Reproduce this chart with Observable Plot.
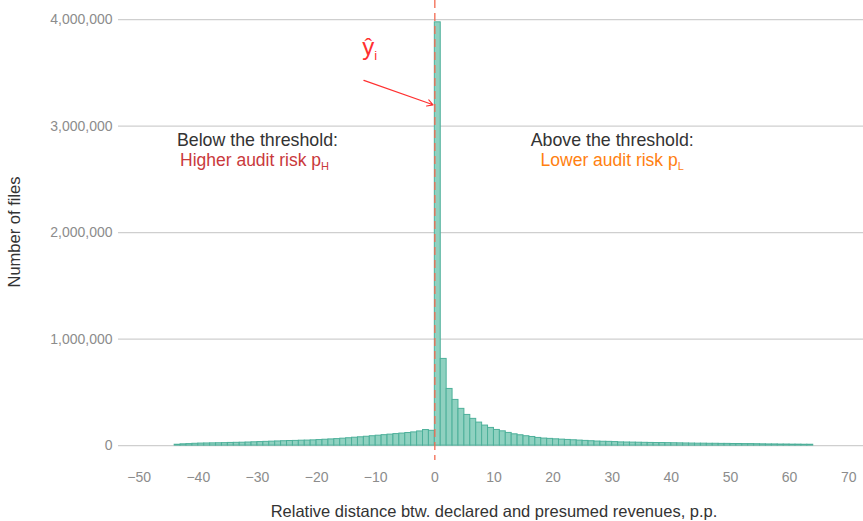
<!DOCTYPE html>
<html>
<head>
<meta charset="utf-8">
<script src="https://cdn.jsdelivr.net/npm/d3@7"></script>
<script src="https://cdn.jsdelivr.net/npm/@observablehq/plot@0.6"></script>
<style>
  html, body { margin: 0; padding: 0; background: #fff; }
  #chart svg { display: block; }
</style>
</head>
<body>
<div id="chart"></div>
<script>
// Bin starts (1 p.p. wide bins)
const leftBins = d3.range(-44, 0);
const leftCounts = [
  8000, 12000, 14000, 17000, 19000, 20000, 21000, 22000, 23000, 25000,
  26000, 27000, 29000, 31000, 33000, 35000, 37000, 39000, 41000, 43000,
  44000, 46000, 47000, 49000, 52000, 55000, 58000, 61000, 65000, 69000,
  74000, 78000, 83000, 88000, 93000, 98000, 103000, 108000, 113000, 118000,
  124000, 133000, 146000, 139000
];
const rightBins = d3.range(0, 64);
const rightCounts = [
  3975000, 814000, 532000, 429000, 345000, 288000, 251000, 216000, 188000, 166000,
  147000, 134000, 119000, 106000, 97000, 88000, 81000, 72000, 66000, 63000,
  59000, 56000, 53000, 50000, 47000, 44000, 41000, 38000, 36000, 35000,
  33000, 30000, 29000, 28000, 27000, 26000, 25000, 24000, 24000, 23000,
  22000, 21000, 20000, 19000, 18000, 18000, 17000, 17000, 16000, 16000,
  15000, 15000, 14000, 14000, 13000, 12000, 11000, 11000, 10000, 10000,
  9000, 9000, 8000, 8000
];
const xTicks = [-50, -40, -30, -20, -10, 0, 10, 20, 30, 40, 50, 60, 70];
const yTicks = [0, 1000000, 2000000, 3000000, 4000000];

const bins = [
  ...leftBins.map((b, i) => ({start: b, n: leftCounts[i]})),
  ...rightBins.map((b, i) => ({start: b, n: rightCounts[i]}))
];

// Annotations
const headers = [
  {x: -30, y: 2870000, label: "Below the threshold:"},
  {x: 30, y: 2870000, label: "Above the threshold:"}
];
const risks = [
  {x: -30.5, y: 2680000, label: "Higher audit risk p", sub: "H", color: "#c9393c"},
  {x: 30, y: 2680000, label: "Lower audit risk p", sub: "L", color: "#ff8010"}
];
const arrowData = [{x1: -12, y1: 3430000, x2: -0.3, y2: 3200000}];
const yhatLabel = [{x: -11, y: 3740000}];

const font = "'Liberation Sans', Arial, Helvetica, sans-serif";

const chart = Plot.plot({
  width: 863,
  height: 521,
  marginLeft: 118,
  marginRight: 0,
  marginTop: 0,
  marginBottom: 61,
  style: {fontFamily: font, fontSize: "14px", background: "#fff"},
  x: {domain: [-53.5, 72.5], ticks: xTicks, tickSize: 0, tickPadding: 12, label: null},
  y: {domain: [-140000, 4180000], ticks: yTicks, tickSize: 0, tickPadding: 6, tickFormat: d3.format(","), label: null},
  marks: [
    Plot.ruleY(yTicks, {stroke: "#cfcfcf", strokeWidth: 1.1}),
    Plot.rectY(bins, {x1: d => d.start, x2: d => d.start + 1, y1: 0, y2: "n",
      fill: "#8fd1c0", stroke: "#4db09a", strokeWidth: 1}),
    Plot.ruleX([0], {stroke: "#f26a50", strokeWidth: 1.3, strokeDasharray: "8,5"}),
    Plot.arrow(arrowData, {x1: "x1", y1: "y1", x2: "x2", y2: "y2", stroke: "#ff3030",
      strokeWidth: 1.1, headLength: 9, bend: 0}),
    Plot.text(headers, {x: "x", y: "y", text: "label", fill: "#333", fontSize: 17.8}),
    Plot.text(risks, {x: "x", y: "y", text: "label", fill: "color", fontSize: 17.5, className: "risk"}),
    Plot.text(yhatLabel, {x: "x", y: "y", text: () => "ŷ", fill: "#ff3030", fontSize: 24, className: "yhat"}),
    Plot.axisX({ticks: xTicks, tickSize: 0, tickPadding: 12, fill: "#8c8c8c", fontSize: 14, label: null}),
    Plot.axisY({ticks: yTicks, tickSize: 0, tickPadding: 6, fill: "#8c8c8c", fontSize: 14, tickFormat: d3.format(","), label: null})
  ]
});

// subscripts
const svg = d3.select(chart);
svg.selectAll(".risk text").each(function(d, i) {
  d3.select(this).append("tspan").attr("font-size", 11).attr("dy", "0.35em").text(risks[i].sub);
});
svg.selectAll(".yhat text").each(function() {
  d3.select(this).append("tspan").attr("font-size", 13).attr("dy", "0.35em").text("i");
});

// axis titles
svg.append("text")
  .attr("transform", "translate(20,232) rotate(-90)")
  .attr("text-anchor", "middle")
  .attr("fill", "#333").attr("font-size", 16.5)
  .attr("font-family", font)
  .text("Number of files");
svg.append("text")
  .attr("x", 494).attr("y", 517)
  .attr("text-anchor", "middle")
  .attr("fill", "#333").attr("font-size", 16.5)
  .attr("font-family", font)
  .text("Relative distance btw. declared and presumed revenues, p.p.");

document.getElementById("chart").appendChild(chart);
</script>
</body>
</html>
